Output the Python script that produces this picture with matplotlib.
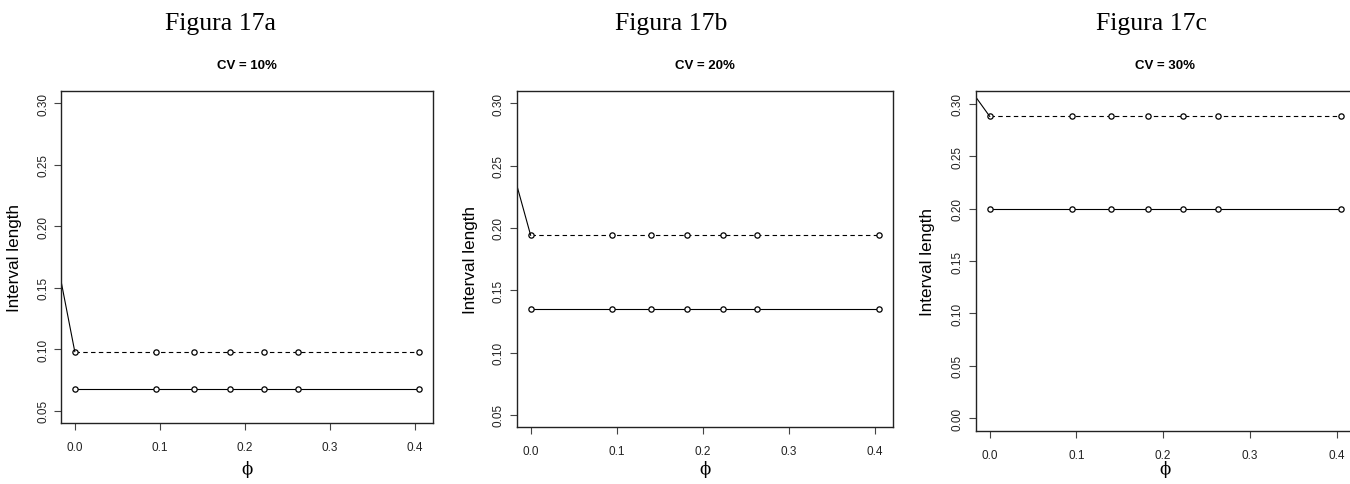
import matplotlib
matplotlib.use("Agg")
import matplotlib.pyplot as plt

# ---- data ----
phi = [0.0, 0.095, 0.14, 0.182, 0.223, 0.263, 0.405]
cv_titles = ["CV = 10%", "CV = 20%", "CV = 30%"]
fig_labels = ["Figura 17a", "Figura 17b", "Figura 17c"]
solid_vals = [0.068, 0.135, 0.200]
dashed_vals = [0.098, 0.194, 0.288]
# leading segment coming from outside the plot region (clipped)
lead_x = -0.02
lead_y = [0.169, 0.244, 0.311]
y_ticks = [
    [0.05, 0.10, 0.15, 0.20, 0.25, 0.30],
    [0.05, 0.10, 0.15, 0.20, 0.25, 0.30],
    [0.00, 0.05, 0.10, 0.15, 0.20, 0.25, 0.30],
]
x_ticks = [0.0, 0.1, 0.2, 0.3, 0.4]

W, H = 1350, 485
fig = plt.figure(figsize=(W / 100, H / 100), dpi=100)

# axes boxes in pixels: left, right, top, bottom
boxes = [
    (61, 433, 91.7, 424.0),
    (516.7, 893.3, 91.7, 428.3),
    (975.7, 1355.0, 92.3, 431.7),
]
ylims = [(0.04, 0.31), (0.04, 0.31), (-0.012, 0.312)]
fig_label_x = [220, 671.5, 1151.5]
ylabel_x = [15, 470, 928]

for i in range(3):
    l, r, t, b = boxes[i]
    ax = fig.add_axes([l / W, 1 - b / H, (r - l) / W, (b - t) / H])
    ax.set_xlim(-0.0162, 0.4212)
    ax.set_ylim(*ylims[i])
    lw = 0.8
    # solid series
    ax.plot(phi, [solid_vals[i]] * len(phi), color="black", lw=lw,
            marker="o", mfc="white", mec="black", ms=3.8, mew=0.9)
    # dashed series
    ax.plot(phi, [dashed_vals[i]] * len(phi), color="black", lw=lw,
            ls=(0, (4, 3)), marker="o", mfc="white", mec="black", ms=3.8, mew=0.9)
    # lead segment
    ax.plot([lead_x, phi[0]], [lead_y[i], dashed_vals[i]], color="black", lw=lw)

    ax.set_xticks(x_ticks)
    ax.set_xticklabels([f"{v:.1f}" for v in x_ticks], family="Liberation Sans",
                       fontsize=8.5, color="#222222")
    ax.set_yticks(y_ticks[i])
    ax.set_yticklabels([f"{v:.2f}" for v in y_ticks[i]], family="Liberation Sans",
                       fontsize=8.5, rotation=90, va="center", color="#222222")
    ax.tick_params(direction="out", length=5, width=0.8, color="#444444")
    ax.tick_params(axis="x", pad=8)
    ax.tick_params(axis="y", pad=3.5)
    for s in ax.spines.values():
        s.set_linewidth(1.0)
        s.set_color("#222222")

    cx = (l + r) / 2
    fig.text(cx / W, 1 - 66 / H, cv_titles[i], ha="center", va="center",
             family="Liberation Sans", fontweight="bold", fontsize=9.5)
    fig.text(cx / W, 1 - 470 / H, "\u03d5", ha="center", va="center",
             family="DejaVu Serif", fontsize=12)
    fig.text(ylabel_x[i] / W, 1 - ((t + b) / 2) / H, "Interval length",
             ha="center", va="center", rotation=90,
             family="Liberation Sans", fontsize=12.3)
    fig.text(fig_label_x[i] / W, 1 - 30 / H, fig_labels[i], ha="center",
             va="baseline", family="Liberation Serif", fontsize=18.5)

fig.savefig("out.png", dpi=100)
